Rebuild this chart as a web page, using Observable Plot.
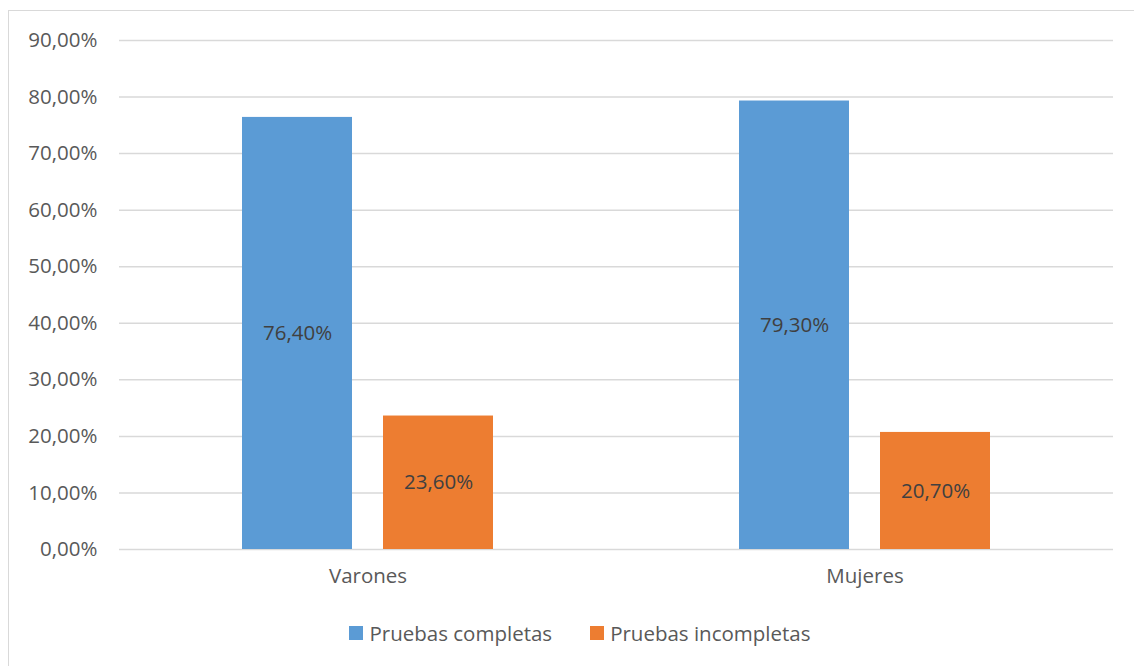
<!DOCTYPE html>
<html>
<head>
<meta charset="utf-8">
<script src="https://cdn.jsdelivr.net/npm/d3@7"></script>
<script src="https://cdn.jsdelivr.net/npm/@observablehq/plot@0.6"></script>
<style>
  html, body { margin: 0; padding: 0; background: #fff; }
  body { width: 1134px; height: 666px; position: relative; overflow: hidden; font-family: "Open Sans", Lato, sans-serif; }
  #frame { position: absolute; left: 8px; top: 10px; width: 1140px; height: 680px; border: 1px solid #D9D9D9; box-sizing: border-box; }
  #chart { position: absolute; left: 0; top: 0; }
  #legend { position: absolute; left: 0; width: 1160px; top: 618px; text-align: center; font-size: 20.5px; color: #595959; }
  .item { display: inline-flex; align-items: center; margin: 0 19px; }
  .sw { width: 14px; height: 14px; display: inline-block; margin-right: 6px; }
</style>
</head>
<body>
<div id="frame"></div>
<div id="chart"></div>
<div id="legend"></div>
<script>
const categories = ["Varones", "Mujeres"];
const series = ["Pruebas completas", "Pruebas incompletas"];
const completas = [76.4, 79.3];
const incompletas = [23.6, 20.7];
const colors = ["#5B9BD5", "#ED7D31"];
const yTicks = [0, 10, 20, 30, 40, 50, 60, 70, 80, 90];

const data = [];
categories.forEach((c, i) => {
  data.push({cat: c, serie: series[0], value: completas[i]});
  data.push({cat: c, serie: series[1], value: incompletas[i]});
});

const fmt = v => v.toFixed(2).replace(".", ",") + "%";

const chart = Plot.plot({
  width: 1134,
  height: 600,
  marginLeft: 118,
  marginRight: 21,
  marginTop: 40,
  marginBottom: 51,
  style: {fontFamily: '"Open Sans", Lato, sans-serif', fontSize: "20.5px", color: "#595959", background: "transparent"},
  fx: {domain: categories, padding: 0, label: null},
  x: {domain: series, paddingInner: 0.218, paddingOuter: 0.861, axis: null},
  y: {domain: [0, 90], label: null, axis: null},
  color: {domain: series, range: colors},
  marks: [
    Plot.ruleY(yTicks, {stroke: "#D9D9D9", strokeWidth: 1.5}),
    Plot.barY(data, {fx: "cat", x: "serie", y: "value", fill: "serie"}),
    Plot.text(data, {fx: "cat", x: "serie", y: d => d.value / 2, text: d => fmt(d.value), fill: "#404040", fontSize: 20.5}),
    Plot.axisY(yTicks, {anchor: "left", tickSize: 0, tickPadding: 22, tickFormat: fmt, fill: "#595959", fontSize: 20.5, label: null}),
    Plot.axisFx({anchor: "bottom", tickSize: 0, tickPadding: 19, fill: "#595959", fontSize: 20.5, label: null})
  ]
});
document.getElementById("chart").appendChild(chart);

const legend = document.getElementById("legend");
series.forEach((s, i) => {
  const item = document.createElement("span");
  item.className = "item";
  const sw = document.createElement("span");
  sw.className = "sw";
  sw.style.background = colors[i];
  item.appendChild(sw);
  item.appendChild(document.createTextNode(s));
  legend.appendChild(item);
});
</script>
</body>
</html>
